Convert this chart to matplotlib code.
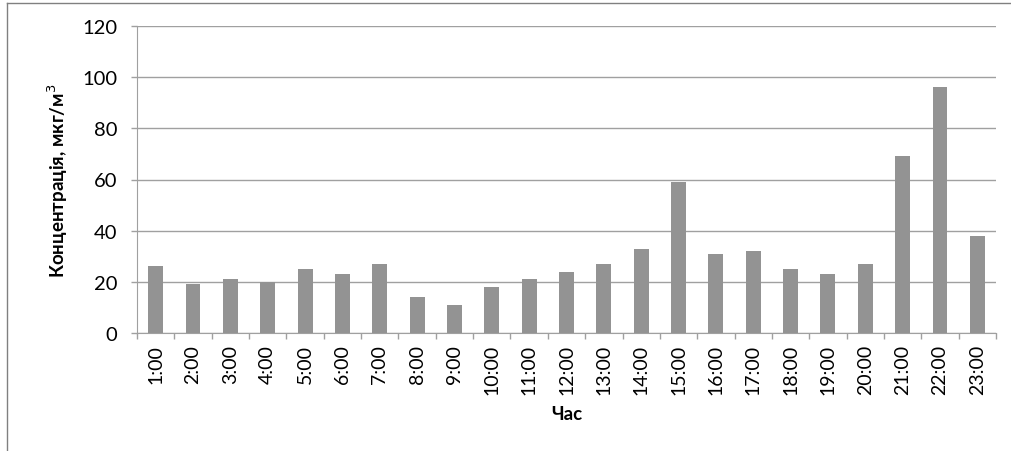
import matplotlib
matplotlib.use('Agg')
import matplotlib.pyplot as plt
from matplotlib.lines import Line2D

hours = ['1:00', '2:00', '3:00', '4:00', '5:00', '6:00', '7:00', '8:00', '9:00', '10:00',
         '11:00', '12:00', '13:00', '14:00', '15:00', '16:00', '17:00', '18:00', '19:00',
         '20:00', '21:00', '22:00', '23:00']
conc = [26, 19, 21, 20, 25, 23, 27, 14, 11, 18, 21, 24, 27, 33, 59, 31, 32, 25, 23, 27, 69, 96, 38]

plt.rcParams['font.family'] = ['Lato', 'DejaVu Sans']

W, H = 1011, 452
fig = plt.figure(figsize=(W / 100, H / 100), dpi=100)
ax = fig.add_axes([137 / W, 1 - 334 / H, (996 - 137) / W, (334 - 27) / H])

x = list(range(len(hours)))
ax.bar(x, conc, width=0.4, color='#939393', zorder=3)

ax.set_xlim(-0.5, len(hours) - 0.5)
ax.set_ylim(0, 120)
ax.set_yticks(range(0, 121, 20))
ax.yaxis.grid(True, color='#a0a0a0', linewidth=1, zorder=0)

ax.set_xticks(x)
ax.set_xticklabels(hours, rotation=90, fontsize=14)
ax.set_xticks([i - 0.5 for i in range(len(hours) + 1)], minor=True)
ax.tick_params(axis='x', which='major', length=0, pad=8)
ax.tick_params(axis='x', which='minor', length=4, color='#a0a0a0', width=1)
ax.tick_params(axis='y', length=4, color='#a0a0a0', width=1, pad=10, labelsize=14.5)

for s in ['top', 'right']:
    ax.spines[s].set_visible(False)
for s in ['left', 'bottom']:
    ax.spines[s].set_color('#a0a0a0')

ax.set_ylabel('Концентрація, мкг/м$^3$', fontsize=13.5, fontweight='bold', labelpad=9)
ax.set_xlabel('Час', fontsize=13.5, fontweight='bold', labelpad=8)

# outer chart border (top and left edges visible)
fig.add_artist(Line2D([7 / W, 1], [1 - 4 / H, 1 - 4 / H], color='#808080', linewidth=1))
fig.add_artist(Line2D([7 / W, 7 / W], [0, 1 - 4 / H], color='#808080', linewidth=1))

fig.savefig('out.png', dpi=100)
